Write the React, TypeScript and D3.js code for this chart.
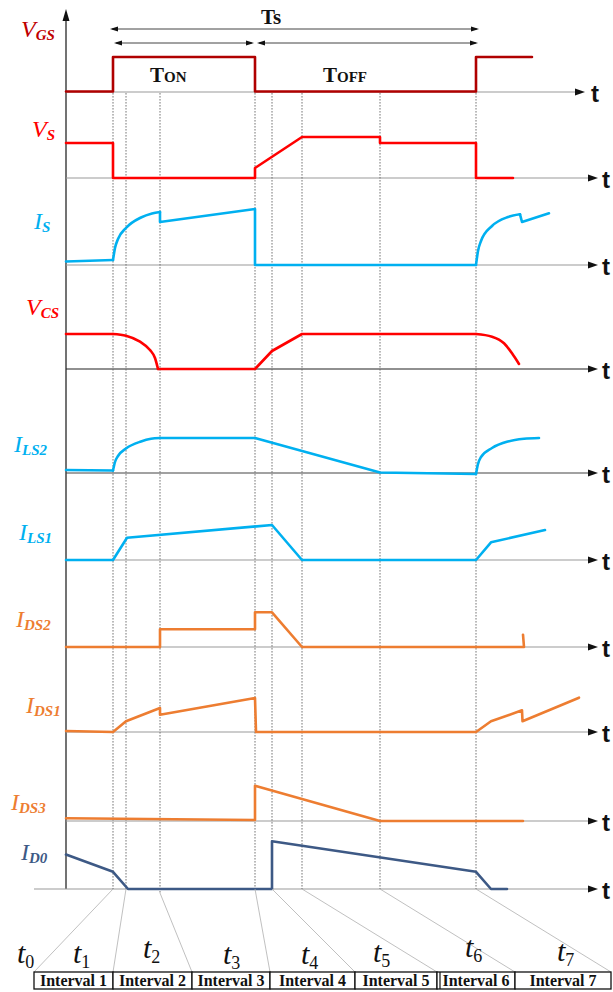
import React from "react";
import * as d3 from "d3";

// ---- data (time in units from the plot origin, amplitude in units above each zero line) ----

// switching instants marked with dotted guides: t1, t1', t2, t3, t3', t4, t5, t6
const INSTANTS = [47, 60, 94, 189, 206, 236, 314, 410];
const T1 = 47;
const T3 = 189;
const T6 = 410;

type Pt = [number, number];
type Seg = { smooth?: boolean; pts: Pt[] };

const VGS: Seg[] = [
  { pts: [[0, 0.5], [47, 0.5], [47, 35], [189, 35], [189, 0.5], [410, 0.5], [410, 35], [466, 35]] },
];

const VS: Seg[] = [
  { pts: [[0, 35], [47, 35], [47, 0], [189, 0], [189, 10], [236, 41], [314, 41], [314, 35], [410, 35], [410, 0], [447, 0]] },
];

const IS: Seg[] = [
  { pts: [[0, 3.5], [47, 5]] },
  { smooth: true, pts: [[47, 5], [49, 17], [52, 26], [60, 37], [75, 47.5], [86, 51.5], [94, 53]] },
  { pts: [[94, 53], [94, 43], [189, 56], [189, 0], [410, 0]] },
  { smooth: true, pts: [[410, 0], [412, 14], [415, 24], [426, 39], [442, 48], [454, 50.7]] },
  { pts: [[454, 50.7], [456, 43], [483, 51.7]] },
];

const VCS: Seg[] = [
  { pts: [[0, 35], [47, 35]] },
  { smooth: true, pts: [[47, 35], [60, 33.3], [74, 27.3], [84, 19], [89, 11], [92, 0]] },
  { pts: [[92, 0], [189, 0], [206, 18], [236, 35], [410, 35]] },
  { smooth: true, pts: [[410, 35], [426, 32.3], [438, 25.7], [446, 15.7], [453, 5]] },
];

const ILS2: Seg[] = [
  { pts: [[0, 3], [47, 2.5]] },
  { smooth: true, pts: [[47, 2.5], [49, 11], [52, 17], [60, 24.5], [75, 31.5], [85, 34.2], [94, 35]] },
  { pts: [[94, 35], [189, 35], [314, 0.5], [410, -1]] },
  { smooth: true, pts: [[410, -1], [412, 9], [415, 16], [426, 25], [442, 31.5], [458, 34.2], [473, 35]] },
];

const ILS1: Seg[] = [
  { pts: [[0, 0], [47, 0], [61, 22.3], [206, 35], [236, 0], [410, 0], [425, 17.7], [479, 30]] },
];

const IDS2: Seg[] = [
  { pts: [[0, 0], [94, 0], [94, 17.7], [189, 17.7], [189, 34.7], [206, 34.7], [236, 0], [458, 0], [457, 12.3]] },
];

const IDS1: Seg[] = [
  { pts: [[0, 1], [47, 0], [60, 10.7], [94, 24], [94, 17.3], [189, 34], [190, 0], [410, 0], [425, 10.7], [456, 21.7], [456.5, 10.7], [513, 34.3]] },
];

const IDS3: Seg[] = [
  { pts: [[0, 2.7], [189, 1], [189, 35.3], [314, 0], [457, 0]] },
];

const ID0: Seg[] = [
  { pts: [[0, 34.5], [47, 17.2], [62, 0], [206, 0], [206, 47.8], [410, 17.2], [425, 0], [441, 0]] },
];

const INTERVALS = ["Interval 1", "Interval 2", "Interval 3", "Interval 4", "Interval 5", "Interval 6", "Interval 7"];
const T_INDEX = ["0", "1", "2", "3", "4", "5", "6", "7"];

// ---- styling / layout ----
const DARK_RED = "#b00000";
const RED = "#ff0000";
const CYAN = "#00b0f0";
const ORANGE = "#ed7d31";
const NAVY = "#3d5985";

const SERIF = "'Liberation Serif', 'Times New Roman', serif";
const SANS = "'Liberation Sans', Arial, sans-serif";

type Panel = {
  main: string;
  sub: string;
  color: string;
  labelColor: string;
  data: Seg[];
  zeroY: number;
  label: [number, number];
  axisColor: string;
};

const PANELS: Panel[] = [
  { main: "V", sub: "GS", color: DARK_RED, labelColor: "#c00000", data: VGS, zeroY: 92, label: [21, 37], axisColor: "#9a9a9a" },
  { main: "V", sub: "S", color: RED, labelColor: RED, data: VS, zeroY: 178, label: [32, 137], axisColor: "#9a9a9a" },
  { main: "I", sub: "S", color: CYAN, labelColor: CYAN, data: IS, zeroY: 265, label: [34, 229], axisColor: "#9a9a9a" },
  { main: "V", sub: "CS", color: RED, labelColor: RED, data: VCS, zeroY: 369, label: [26, 315], axisColor: "#222" },
  { main: "I", sub: "LS2", color: CYAN, labelColor: CYAN, data: ILS2, zeroY: 473, label: [14, 452], axisColor: "#444" },
  { main: "I", sub: "LS1", color: CYAN, labelColor: CYAN, data: ILS1, zeroY: 560, label: [19, 540], axisColor: "#9a9a9a" },
  { main: "I", sub: "DS2", color: ORANGE, labelColor: ORANGE, data: IDS2, zeroY: 647, label: [16, 627], axisColor: "#9a9a9a" },
  { main: "I", sub: "DS1", color: ORANGE, labelColor: ORANGE, data: IDS1, zeroY: 732, label: [26, 713], axisColor: "#9a9a9a" },
  { main: "I", sub: "DS3", color: ORANGE, labelColor: ORANGE, data: IDS3, zeroY: 821, label: [11, 810], axisColor: "#9a9a9a" },
  { main: "I", sub: "D0", color: NAVY, labelColor: NAVY, data: ID0, zeroY: 889, label: [21, 860], axisColor: "#9a9a9a" },
];

const BOX_EDGES = [34, 113, 192, 270, 355, 437, 515, 611];
const BOX_TOP = 972;
const BOX_BOTTOM = 989;
const T_LABEL_POS: [number, number][] = [
  [17, 963], [73, 963], [143, 958], [223, 964], [301, 964], [373, 962], [465, 957], [557, 961],
];

const x = d3.scaleLinear().domain([0, 410]).range([66, 476]);

function Arrow({ x1, x2, y }: { x1: number; x2: number; y: number }) {
  const L = 8, h = 2.6;
  return (
    <g>
      <line x1={x1 + 2} x2={x2 - 2} y1={y} y2={y} stroke="#444" strokeWidth={1} />
      <polygon points={`${x1},${y} ${x1 + L},${y - h} ${x1 + L},${y + h}`} fill="#111" />
      <polygon points={`${x2},${y} ${x2 - L},${y - h} ${x2 - L},${y + h}`} fill="#111" />
    </g>
  );
}

function Trace({ panel }: { panel: Panel }) {
  const y = d3.scaleLinear().domain([0, 50]).range([panel.zeroY, panel.zeroY - 50]);
  const lin = d3.line<Pt>().x((d) => x(d[0])).y((d) => y(d[1]));
  const smooth = d3.line<Pt>().x((d) => x(d[0])).y((d) => y(d[1])).curve(d3.curveMonotoneX);
  return (
    <g>
      {panel.data.map((s, i) => (
        <path
          key={i}
          d={(s.smooth ? smooth : lin)(s.pts) || ""}
          fill="none"
          stroke={panel.color}
          strokeWidth={2.6}
          strokeLinejoin="round"
          strokeLinecap="round"
        />
      ))}
    </g>
  );
}

export default function App() {
  const W = 613, H = 992;
  const lastZero = PANELS[PANELS.length - 1].zeroY;
  return (
    <svg
      width={W}
      height={H}
      viewBox={`0 0 ${W} ${H}`}
      style={{ position: "absolute", left: 0, top: 0, background: "#fff" }}
    >
      {/* vertical amplitude axis */}
      <line x1={66} x2={66} y1={14} y2={lastZero} stroke="#444" strokeWidth={1.5} />
      <polygon points={`66,9 62.5,21 69.5,21`} fill="#111" />

      {/* zero lines with arrow heads */}
      {PANELS.map((p, i) => {
        const tip = i === 0 ? 585 : 598;
        const start = i === PANELS.length - 1 ? 34 : 66;
        return (
          <g key={p.sub}>
            <line x1={start} x2={tip - 6} y1={p.zeroY} y2={p.zeroY} stroke={p.axisColor} strokeWidth={1.2} />
            <polygon points={`${tip},${p.zeroY} ${tip - 10},${p.zeroY - 3.5} ${tip - 10},${p.zeroY + 3.5}`} fill="#111" />
            <text
              x={i === 0 ? 591 : 602}
              y={p.zeroY + 10}
              fontFamily={SANS}
              fontWeight="bold"
              fontSize={24}
              fill="#111"
            >
              t
            </text>
          </g>
        );
      })}

      {/* dotted guides at each switching instant */}
      {INSTANTS.map((t, i) => (
        <line
          key={i}
          x1={x(t)}
          x2={x(t)}
          y1={PANELS[0].zeroY + 1}
          y2={i === 2 ? lastZero + 4 : lastZero}
          stroke="#666"
          strokeWidth={0.9}
          strokeDasharray="1.6,1.4"
        />
      ))}

      {/* period annotations */}
      <Arrow x1={x(T1) - 3} x2={x(T6) + 3} y={29} />
      <Arrow x1={x(T1) + 1} x2={x(T3) - 1} y={43} />
      <Arrow x1={x(T3) + 2} x2={x(T6) + 2} y={43} />
      <text x={261} y={24} fontFamily={SERIF} fontWeight="bold" fontSize={21} fill="#111">
        Ts
      </text>
      <text x={150} y={82} fontFamily={SERIF} fontWeight="bold" fontSize={21} fill="#111">
        T<tspan fontSize={15}>ON</tspan>
      </text>
      <text x={323} y={82} fontFamily={SERIF} fontWeight="bold" fontSize={21} fill="#111">
        T<tspan fontSize={15}>OFF</tspan>
      </text>

      {/* waveforms */}
      {PANELS.map((p) => (
        <Trace key={p.sub} panel={p} />
      ))}

      {/* signal names */}
      {PANELS.map((p) => (
        <text
          key={p.sub}
          x={p.label[0]}
          y={p.label[1]}
          fontFamily={SERIF}
          fontStyle="italic"
          fontSize={24}
          fill={p.labelColor}
        >
          {p.main}
          <tspan fontSize={15} fontWeight="bold" dy={3}>
            {p.sub}
          </tspan>
        </text>
      ))}

      {/* links from the instants to the interval table */}
      {INSTANTS.map((t, i) => (
        <line
          key={i}
          x1={x(t)}
          y1={i === 2 ? lastZero + 4 : lastZero}
          x2={BOX_EDGES[i]}
          y2={BOX_TOP}
          stroke="#b0b0b0"
          strokeWidth={0.8}
        />
      ))}

      {/* time labels */}
      {T_INDEX.map((k, i) => (
        <text
          key={k}
          x={T_LABEL_POS[i][0]}
          y={T_LABEL_POS[i][1]}
          fontFamily={SERIF}
          fontSize={30}
          fill="#111"
        >
          <tspan fontStyle="italic">t</tspan>
          <tspan fontSize={18} dy={5}>
            {k}
          </tspan>
        </text>
      ))}

      {/* interval table */}
      {INTERVALS.map((name, i) => {
        const x0 = BOX_EDGES[i], x1 = BOX_EDGES[i + 1];
        return (
          <g key={name}>
            <rect
              x={x0}
              y={BOX_TOP}
              width={x1 - x0}
              height={BOX_BOTTOM - BOX_TOP}
              fill="#fff"
              stroke="#111"
              strokeWidth={1.3}
            />
            <text
              x={(x0 + x1) / 2}
              y={BOX_BOTTOM - 3.5}
              textAnchor="middle"
              fontFamily={SERIF}
              fontWeight="bold"
              fontSize={16}
              fill="#111"
            >
              {name}
            </text>
          </g>
        );
      })}
      <line x1={BOX_EDGES[5] + 3} x2={BOX_EDGES[5] + 3} y1={BOX_TOP} y2={BOX_BOTTOM} stroke="#111" strokeWidth={1.2} />
    </svg>
  );
}
